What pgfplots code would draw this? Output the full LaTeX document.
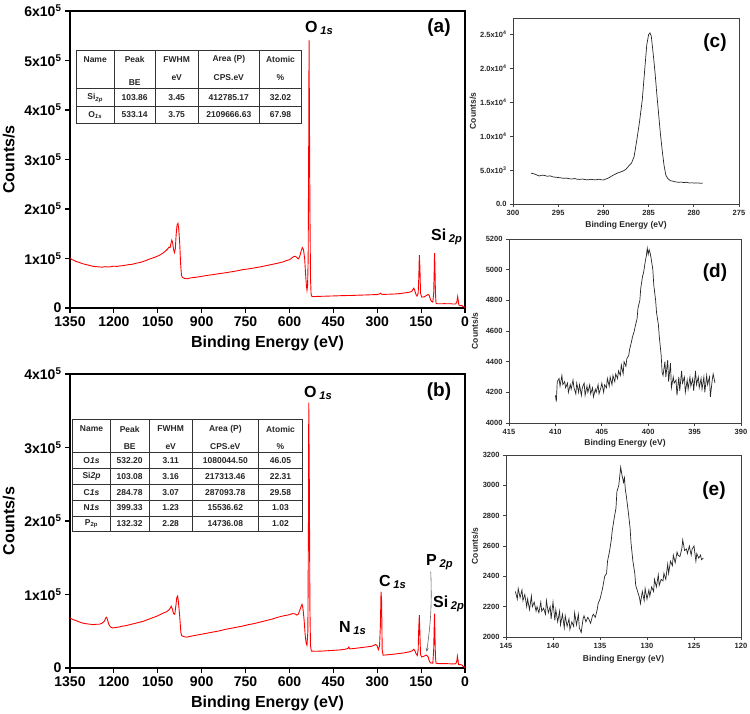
\documentclass[border=0pt]{standalone}
\usepackage{fontspec}
\setmainfont{Liberation Sans}
\usepackage{pgfplots}
\pgfplotsset{compat=1.18}
\usetikzlibrary{arrows.meta}

\pgfplotstableread{
E C
1350 101000
1345 98500
1340 97000
1335 96000
1330 94000
1320 92500
1310 90000
1300 88500
1290 87000
1280 85500
1270 84000
1260 83500
1250 83000
1240 82500
1230 83500
1220 82800
1210 83500
1200 84500
1190 84000
1180 85000
1170 85500
1160 86500
1150 87500
1140 88000
1130 89500
1120 91000
1110 92000
1100 94000
1090 96000
1080 98500
1070 100500
1060 102500
1050 105000
1040 108000
1030 112000
1020 117000
1015 120000
1012 123000
1008 122000
1005 130000
1002 137000
999 131000
996 118000
993 112000
990 120000
987 150000
984 168000
981 171000
978 158000
975 130000
972 90000
969 66000
966 62000
960 60000
950 59000
940 60500
930 61500
920 62000
910 63000
900 64000
880 66000
860 67500
840 69500
820 71000
800 73000
780 75000
760 77500
740 79000
720 81000
700 83000
680 85500
660 88000
640 90500
620 93500
610 96000
600 97500
595 99500
590 102000
585 104000
580 104500
575 102000
570 99000
565 104000
560 115000
556 122000
552 118000
548 100000
545 70000
542 45000
540 36000
538 45000
536 100000
534 350000
533 541000
532 430000
530 200000
528 60000
526 28000
524 24000
520 23000
500 23500
480 23800
460 24200
440 24500
420 25000
400 25200
380 25500
360 26000
340 26300
320 26800
300 27200
292 28500
289 30000
286 28000
280 27500
260 27800
240 28300
220 29300
200 31000
190 32000
182 33500
178 37500
175 40000
172 36000
168 28000
164 24000
160 30000
158 60000
156 107000
154 80000
152 30000
148 22000
140 22500
135 24000
130 26000
126 27500
122 25000
118 17000
114 13000
110 12000
107 30000
105 80000
104 111000
103 90000
101 30000
99 9500
95 8500
80 8500
70 8800
60 8500
50 8700
40 8000
32 8200
28 12000
25 23000
23 15000
21 6000
15 4500
10 5000
7 3000
4 2500
0 1000
}\surveyA

\pgfplotstableread{
E C
1350 68000
1340 66000
1330 64500
1320 63000
1310 61500
1300 60500
1290 60000
1280 59500
1270 59000
1260 59500
1250 59500
1240 61000
1232 64000
1228 68000
1225 69000
1222 66000
1218 60000
1212 56000
1205 54500
1195 55000
1180 56000
1170 57000
1160 57500
1150 58500
1140 59500
1130 60500
1120 61500
1110 62500
1100 63500
1090 65000
1080 66500
1070 68000
1060 69500
1050 71000
1040 73000
1030 75000
1020 76500
1012 79000
1008 81000
1004 84000
1000 80000
996 74000
992 73000
988 85000
985 96000
982 98000
979 88000
975 70000
971 48000
968 44000
960 42500
950 42000
940 43000
920 44500
900 46000
880 47500
860 49000
840 50500
820 52500
800 54000
780 55500
760 57000
740 59000
720 60500
700 62500
680 64500
660 66500
640 69000
620 71000
600 72500
590 74000
580 73500
575 72000
570 73000
565 78000
560 84000
557 86500
554 82000
550 66000
546 44000
543 34000
540 31000
537 50000
535 200000
534 361000
532 250000
530 80000
528 30000
525 23000
510 22800
490 23000
470 23500
450 24000
430 24500
410 25500
400 26500
397 28500
394 26000
380 26500
360 27500
340 28500
320 29500
310 31000
305 32000
300 30000
296 25000
292 30000
289 60000
287 104000
285 90000
283 25000
280 17500
270 17800
250 18500
230 19500
210 20500
190 22000
180 23500
175 25500
172 24000
168 20000
163 17000
160 25000
158 55000
156 72000
154 45000
152 18000
148 15000
140 16000
134 17500
130 17000
126 15000
122 9500
118 7000
110 6500
107 25000
105 60000
104 74000
103 50000
101 15000
99 6500
90 6000
70 6000
55 5800
40 5500
32 5800
28 9000
26 16000
24 11000
22 4500
15 4500
10 4000
7 2500
4 2000
0 500
}\surveyB

\pgfplotstableread{
E C
298.0 4530
297.7 4450
297.4 4300
297.1 4120
296.8 4250
296.5 4200
296.2 4080
295.9 4150
295.6 4000
295.3 3950
295.0 3900
294.7 3850
294.4 3780
294.1 3820
293.8 3720
293.5 3680
293.2 3750
292.9 3650
292.6 3620
292.3 3680
292.0 3600
291.7 3560
291.4 3640
291.1 3580
290.8 3560
290.5 3650
290.2 3560
290.0 3540
289.5 3790
289.0 4180
288.5 4530
288.0 4770
287.8 4870
287.5 5120
287.2 5600
286.9 6000
286.6 7000
286.3 9450
286.0 12150
285.7 15350
285.4 20270
285.2 23470
285.0 24950
284.85 25200
284.7 24700
284.5 22240
284.3 19540
284.1 16340
283.9 13390
283.7 10430
283.5 7970
283.3 5760
283.1 4280
282.9 3790
282.6 3440
282.3 3350
282.0 3250
281.7 3200
281.4 3230
281.1 3150
280.8 3200
280.5 3100
280.2 3120
279.9 3080
279.6 3110
279.3 3060
279.0 3080
}\carbon

\pgfplotstableread{
E C
410.0 4180
409.9 4140
409.8 4270
409.6 4290
409.5 4240
409.3 4310
409.2 4250
409.0 4270
408.9 4230
408.7 4260
408.6 4200
408.4 4250
408.3 4220
408.1 4280
408.0 4230
407.8 4190
407.7 4260
407.5 4200
407.4 4250
407.2 4180
407.1 4230
406.9 4260
406.8 4180
406.6 4240
406.5 4200
406.3 4250
406.2 4190
406.0 4230
405.9 4170
405.7 4220
405.6 4200
405.4 4250
405.3 4190
405.1 4230
405.0 4260
404.8 4200
404.7 4250
404.5 4230
404.4 4290
404.2 4240
404.1 4300
403.9 4250
403.8 4310
403.6 4270
403.5 4320
403.3 4290
403.2 4340
403.0 4310
402.9 4380
402.7 4320
402.6 4400
402.4 4370
402.3 4420
402.1 4440
402.0 4480
401.8 4530
401.7 4560
401.5 4600
401.4 4630
401.2 4680
401.1 4750
400.9 4800
400.8 4880
400.6 4960
400.5 4980
400.3 5060
400.2 5090
400.1 5140
400.0 5100
399.9 5130
399.8 5110
399.7 5080
399.5 5000
399.4 4900
399.2 4800
399.1 4720
398.9 4640
398.8 4560
398.6 4440
398.5 4330
398.4 4310
398.2 4400
398.1 4300
397.9 4410
397.8 4270
397.6 4390
397.5 4230
397.3 4300
397.2 4260
397.0 4280
396.9 4180
396.7 4300
396.6 4210
396.4 4340
396.3 4260
396.1 4300
396.0 4200
395.8 4280
395.7 4220
395.5 4300
395.4 4240
395.2 4290
395.1 4210
394.9 4340
394.8 4250
394.6 4300
394.5 4230
394.3 4290
394.2 4220
394.0 4300
393.9 4200
393.7 4310
393.6 4250
393.4 4300
393.3 4170
393.1 4280
393.0 4320
392.8 4260
}\nitrogen

\pgfplotstableread{
E C
144.0 2300
143.8 2250
143.7 2320
143.5 2260
143.3 2310
143.2 2240
143.0 2280
142.8 2200
142.7 2250
142.5 2180
142.3 2270
142.2 2200
142.0 2230
141.8 2170
141.7 2200
141.5 2160
141.3 2230
141.2 2170
141.0 2190
140.8 2150
140.7 2240
140.5 2160
140.3 2200
140.2 2120
140.0 2230
139.8 2110
139.7 2180
139.5 2100
139.3 2170
139.2 2080
139.0 2150
138.8 2060
138.7 2140
138.5 2070
138.3 2120
138.2 2050
138.0 2100
137.8 2070
137.7 2160
137.5 2080
137.3 2150
137.2 2060
137.0 2030
136.8 2120
136.7 2140
136.5 2100
136.3 2130
136.2 2120
136.0 2090
135.8 2140
135.7 2150
135.5 2130
135.3 2180
135.2 2220
135.0 2250
134.8 2300
134.7 2330
134.5 2400
134.3 2420
134.2 2500
134.0 2560
133.8 2640
133.7 2700
133.5 2780
133.3 2850
133.2 2960
133.0 3000
132.9 3060
132.8 3120
132.7 3080
132.5 3020
132.4 3050
132.3 2970
132.2 2930
132.0 2830
131.8 2720
131.7 2620
131.5 2500
131.3 2420
131.2 2340
131.0 2300
130.8 2260
130.7 2220
130.5 2300
130.3 2240
130.2 2320
130.0 2250
129.8 2310
129.7 2270
129.5 2330
129.3 2300
129.2 2380
129.0 2330
128.8 2410
128.7 2340
128.5 2380
128.3 2370
128.2 2420
128.0 2380
127.8 2480
127.7 2420
127.5 2500
127.3 2470
127.2 2540
127.0 2490
126.8 2560
126.7 2540
126.5 2530
126.3 2580
126.2 2640
126.0 2570
125.8 2580
125.7 2550
125.5 2600
125.3 2540
125.2 2580
125.0 2600
124.8 2500
124.7 2550
124.5 2520
124.3 2540
124.2 2510
124.0 2520
}\phosphorus

\pgfplotsset{
  common/.style={
    scale only axis, x dir=reverse, tick pos=left, tick align=outside,
    scaled ticks=false,
    /pgf/number format/assume math mode=true,
    /pgf/number format/1000 sep={},
    anchor=south west,
  },
  big/.style={
    common, width=395pt,
    axis line style={line width=1.1pt},
    major tick style={line width=1.1pt, black},
    major tick length=5pt,
    xmin=0, xmax=1350, xtick={0,150,...,1350},
    ticklabel style={font=\fontsize{14}{14}\selectfont\bfseries},
    label style={font=\fontsize{16}{16}\selectfont\bfseries},
    xlabel={Binding Energy (eV)}, ylabel={Counts/s},
  },
  small/.style={
    common,
    axis line style={line width=0.8pt, black!75},
    major tick style={line width=0.8pt, black!75},
    major tick length=3pt,
    ticklabel style={font=\fontsize{7.5}{7.5}\selectfont\bfseries, text=black!85},
    label style={font=\fontsize{8.5}{8.5}\selectfont\bfseries, text=black!85},
    xlabel={Binding Energy (eV)}, ylabel={Counts/s},
  },
  redline/.style={red, line width=0.9pt, mark=none},
  blackline/.style={black!85, line width=0.7pt, mark=none},
}

\begin{document}
\begin{tikzpicture}
\useasboundingbox (0pt,0pt) rectangle (750pt,713pt);

% ---------- (a) ----------
\begin{axis}[big, at={(70pt,405pt)}, height=297pt,
  ymin=0, ymax=600000, ytick={0,100000,...,600000},
  yticklabels={0,1x10\textsuperscript{5},2x10\textsuperscript{5},3x10\textsuperscript{5},4x10\textsuperscript{5},5x10\textsuperscript{5},6x10\textsuperscript{5}},
  xlabel style={at={(axis description cs:0.5,-0.118)}, anchor=center},
  ylabel style={at={(axis description cs:-0.155,0.5)}, anchor=center},
]
\addplot[redline] table[x=E,y=C] {\surveyA};
\end{axis}

% ---------- (b) ----------
\begin{axis}[big, at={(70pt,45pt)}, height=294pt,
  ymin=0, ymax=400000, ytick={0,100000,...,400000},
  yticklabels={0,1x10\textsuperscript{5},2x10\textsuperscript{5},3x10\textsuperscript{5},4x10\textsuperscript{5}},
  xlabel style={at={(axis description cs:0.5,-0.119)}, anchor=center},
  ylabel style={at={(axis description cs:-0.155,0.5)}, anchor=center},
]
\addplot[redline] table[x=E,y=C] {\surveyB};
\draw[black!60, line width=0.6pt, -{Stealth[length=4pt,width=3pt]}]
  (axis cs:117,131000) to[bend left=5] (axis cs:131,22000);
\end{axis}

% ---------- (c) ----------
\begin{axis}[small, at={(513pt,509pt)}, width=226pt, height=186pt,
  xmin=275, xmax=300, xtick={275,280,...,300},
  ymin=0, ymax=27400, ytick={0,5000,...,25000},
  yticklabels={0.0,5.0x10\textsuperscript{3},1.0x10\textsuperscript{4},1.5x10\textsuperscript{4},2.0x10\textsuperscript{4},2.5x10\textsuperscript{4}},
  xlabel style={at={(axis description cs:0.5,-0.113)}, anchor=center},
  ylabel style={at={(axis description cs:-0.177,0.5)}, anchor=center},
]
\addplot[blackline] table[x=E,y=C] {\carbon};
\end{axis}

% ---------- (d) ----------
\begin{axis}[small, at={(509pt,290pt)}, width=232pt, height=184pt,
  xmin=390, xmax=415, xtick={390,395,...,415},
  ymin=4000, ymax=5200, ytick={4000,4200,...,5200},
  xlabel style={at={(axis description cs:0.5,-0.108)}, anchor=center},
  ylabel style={at={(axis description cs:-0.147,0.5)}, anchor=center},
]
\addplot[blackline] table[x=E,y=C] {\nitrogen};
\end{axis}

% ---------- (e) ----------
\begin{axis}[small, at={(506pt,76pt)}, width=235pt, height=182pt,
  xmin=120, xmax=145, xtick={120,125,...,145},
  ymin=2000, ymax=3200, ytick={2000,2200,...,3200},
  xlabel style={at={(axis description cs:0.5,-0.12)}, anchor=center},
  ylabel style={at={(axis description cs:-0.132,0.5)}, anchor=center},
]
\addplot[blackline] table[x=E,y=C] {\phosphorus};
\end{axis}

% ---------- peak labels ----------
\begin{scope}[every node/.style={font=\fontsize{16}{16}\selectfont\bfseries, inner sep=0pt}]
\node[anchor=west] at (305pt,685pt) {O\,\textsubscript{\textit{1s}}};
\node[anchor=west] at (431pt,476pt) {Si\,\textsubscript{\textit{2p}}};
\node[anchor=west] at (304pt,320pt) {O\,\textsubscript{\textit{1s}}};
\node[anchor=west] at (379pt,131pt) {C\,\textsubscript{\textit{1s}}};
\node[anchor=west] at (339pt,85pt) {N\,\textsubscript{\textit{1s}}};
\node[anchor=west] at (426pt,151pt) {P\,\textsubscript{\textit{2p}}};
\node[anchor=west] at (433pt,109pt) {Si\,\textsubscript{\textit{2p}}};
\end{scope}
\begin{scope}[every node/.style={font=\fontsize{19}{19}\selectfont\bfseries, inner sep=0pt}]
\node at (439pt,685pt) {(a)};
\node at (439pt,321pt) {(b)};
\node at (715pt,670pt) {(c)};
\node at (715pt,440pt) {(d)};
\node at (714pt,222pt) {(e)};
\end{scope}

% ---------- table (a) ----------
\begin{scope}[line width=0.8pt, black!80]
\draw (76pt,663pt) rectangle (301.7pt,589.7pt);
\foreach \x in {114.3,155,198.3,259.3} \draw (\x pt,663pt) -- (\x pt,589.7pt);
\draw (76pt,624.7pt) -- (301.7pt,624.7pt);
\draw (76pt,607pt) -- (301.7pt,607pt);
\end{scope}
\begin{scope}[every node/.style={font=\fontsize{8.5}{8.5}\selectfont\bfseries, inner sep=0pt, text=black!85}]
\node at (95.2pt,653.7pt) {Name};
\node at (134.7pt,653.7pt) {Peak};
\node at (134.7pt,630.3pt) {BE};
\node at (176.7pt,653.7pt) {FWHM};
\node at (176.7pt,635.7pt) {eV};
\node at (228.8pt,653.7pt) {Area (P)};
\node at (228.8pt,635.7pt) {CPS.eV};
\node at (280.5pt,653.7pt) {Atomic};
\node at (280.5pt,635.7pt) {\%};
\node at (95.2pt,615pt) {Si\textsubscript{\textit{2p}}};
\node at (134.7pt,615pt) {103.86};
\node at (176.7pt,615pt) {3.45};
\node at (228.8pt,615pt) {412785.17};
\node at (280.5pt,615pt) {32.02};
\node at (95.2pt,598pt) {O\textsubscript{\textit{1s}}};
\node at (134.7pt,598pt) {533.14};
\node at (176.7pt,598pt) {3.75};
\node at (228.8pt,598pt) {2109666.63};
\node at (280.5pt,598pt) {67.98};
\end{scope}

% ---------- table (b) ----------
\begin{scope}[line width=0.8pt, black!80]
\draw (72.7pt,293.7pt) rectangle (302.7pt,181.3pt);
\foreach \x in {110.3,149,192.3,258.3} \draw (\x pt,293.7pt) -- (\x pt,181.3pt);
\foreach \y in {260.3,244.3,228.7,213,197} \draw (72.7pt,\y pt) -- (302.7pt,\y pt);
\end{scope}
\begin{scope}[every node/.style={font=\fontsize{8.5}{8.5}\selectfont\bfseries, inner sep=0pt, text=black!85}]
\node at (91.5pt,284pt) {Name};
\node at (129.7pt,284pt) {Peak};
\node at (129.7pt,266.3pt) {BE};
\node at (170.7pt,284pt) {FWHM};
\node at (170.7pt,266.3pt) {eV};
\node at (225.3pt,284pt) {Area (P)};
\node at (225.3pt,266.3pt) {CPS.eV};
\node at (280.5pt,284pt) {Atomic};
\node at (280.5pt,266.3pt) {\%};
% rows
\node at (91.5pt,252.3pt) {O\textit{1s}};
\node at (129.7pt,252.3pt) {532.20};
\node at (170.7pt,252.3pt) {3.11};
\node at (225.3pt,252.3pt) {1080044.50};
\node at (280.5pt,252.3pt) {46.05};
\node at (91.5pt,236.5pt) {Si\textit{2p}};
\node at (129.7pt,236.5pt) {103.08};
\node at (170.7pt,236.5pt) {3.16};
\node at (225.3pt,236.5pt) {217313.46};
\node at (280.5pt,236.5pt) {22.31};
\node at (91.5pt,220.8pt) {C\textit{1s}};
\node at (129.7pt,220.8pt) {284.78};
\node at (170.7pt,220.8pt) {3.07};
\node at (225.3pt,220.8pt) {287093.78};
\node at (280.5pt,220.8pt) {29.58};
\node at (91.5pt,205pt) {N\textit{1s}};
\node at (129.7pt,205pt) {399.33};
\node at (170.7pt,205pt) {1.23};
\node at (225.3pt,205pt) {15536.62};
\node at (280.5pt,205pt) {1.03};
\node at (91.5pt,189.1pt) {P\textsubscript{2p}};
\node at (129.7pt,189.1pt) {132.32};
\node at (170.7pt,189.1pt) {2.28};
\node at (225.3pt,189.1pt) {14736.08};
\node at (280.5pt,189.1pt) {1.02};
\end{scope}
\end{tikzpicture}
\end{document}
